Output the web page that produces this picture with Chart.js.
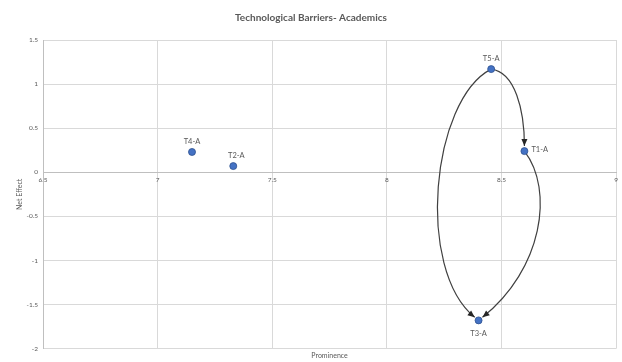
<!DOCTYPE html>
<html>
<head>
<meta charset="utf-8">
<script src="https://cdn.jsdelivr.net/npm/chart.js@4/dist/chart.umd.min.js"></script>
<style>
  html, body { margin: 0; padding: 0; background: #fff; }
  #wrap { width: 622px; height: 362px; }
</style>
</head>
<body>
<div id="wrap"><canvas id="chart" width="622" height="362"></canvas></div>
<script>
// Data
const pointLabels = ['T1-A', 'T2-A', 'T3-A', 'T4-A', 'T5-A'];
const prominence  = [8.60, 7.33, 8.40, 7.15, 8.455];
const netEffect   = [0.24, 0.07, -1.68, 0.23, 1.17];
const xTicks = [6.5, 7, 7.5, 8, 8.5, 9];
const yTicks = [1.5, 1, 0.5, 0, -0.5, -1, -1.5, -2];
// cause -> effect links drawn as curved arrows
const links = [['T5-A', 'T1-A'], ['T1-A', 'T3-A'], ['T5-A', 'T3-A']];

// Where each label sits relative to its point
const labelPlace = { 'T1-A': 'right', 'T2-A': 'aboveRight', 'T3-A': 'below', 'T4-A': 'above', 'T5-A': 'above' };
// Curve shape of each link: pixel offsets of the two control points
const bends = {
  'T5-A>T1-A': [[24, 3], [0, -41]],
  'T1-A>T3-A': [[30, 39], [64, -51]],
  'T5-A>T3-A': [[-60, 31], [-63, -51]]
};

const TXT = '#595959';
const GRID = '#d9d9d9';

const pts = prominence.map((x, i) => ({ x, y: netEffect[i] }));

function px(chart, name) {
  const i = pointLabels.indexOf(name);
  return { x: chart.scales.x.getPixelForValue(prominence[i]), y: chart.scales.y.getPixelForValue(netEffect[i]) };
}

const arrowPlugin = {
  id: 'arrows',
  beforeDatasetsDraw(chart) {
    const ctx = chart.ctx;
    ctx.save();
    ctx.strokeStyle = '#404040';
    ctx.fillStyle = '#262626';
    ctx.lineWidth = 1.2;
    links.forEach(([a, b]) => {
      const p0 = px(chart, a), p3 = px(chart, b);
      const [o1, o2] = bends[a + '>' + b];
      const c1 = { x: p0.x + o1[0], y: p0.y + o1[1] };
      const c2 = { x: p3.x + o2[0], y: p3.y + o2[1] };
      // end the line just short of the target marker
      const dx = p3.x - c2.x, dy = p3.y - c2.y;
      const len = Math.hypot(dx, dy);
      const ux = dx / len, uy = dy / len;
      const tip = { x: p3.x - ux * 5, y: p3.y - uy * 5 };
      ctx.beginPath();
      ctx.moveTo(p0.x, p0.y);
      ctx.bezierCurveTo(c1.x, c1.y, c2.x, c2.y, tip.x, tip.y);
      ctx.stroke();
      const L = 7, W = 3;
      ctx.beginPath();
      ctx.moveTo(tip.x, tip.y);
      ctx.lineTo(tip.x - ux * L - uy * W, tip.y - uy * L + ux * W);
      ctx.lineTo(tip.x - ux * L + uy * W, tip.y - uy * L - ux * W);
      ctx.closePath();
      ctx.fill();
    });
    ctx.restore();
  },
  afterDatasetsDraw(chart) {
    const ctx = chart.ctx;
    ctx.save();
    ctx.font = '7.5px Lato, "Open Sans", sans-serif';
    ctx.fillStyle = TXT;
    pointLabels.forEach(name => {
      const p = px(chart, name);
      const where = labelPlace[name];
      if (where === 'right') {
        ctx.textAlign = 'left'; ctx.textBaseline = 'middle';
        ctx.fillText(name, p.x + 7, p.y - 2);
      } else if (where === 'below') {
        ctx.textAlign = 'center'; ctx.textBaseline = 'top';
        ctx.fillText(name, p.x, p.y + 9);
      } else if (where === 'aboveRight') {
        ctx.textAlign = 'center'; ctx.textBaseline = 'bottom';
        ctx.fillText(name, p.x + 3, p.y - 7);
      } else {
        ctx.textAlign = 'center'; ctx.textBaseline = 'bottom';
        ctx.fillText(name, p.x, p.y - 7);
      }
    });
    ctx.restore();
  }
};

const tickFmt = v => String(v);

new Chart(document.getElementById('chart').getContext('2d'), {
  type: 'scatter',
  data: {
    datasets: [{
      data: pts,
      backgroundColor: '#4472c4',
      borderColor: '#2f528f',
      borderWidth: 0.8,
      pointRadius: 3.5,
      pointHoverRadius: 3.5
    }]
  },
  options: {
    responsive: false,
    animation: false,
    layout: { padding: { left: 0, right: 0, top: 0, bottom: 0 } },
    plugins: {
      legend: { display: false },
      tooltip: { enabled: false },
      title: {
        display: true,
        text: 'Technological Barriers- Academics',
        color: TXT,
        font: { family: 'Lato, "Open Sans", sans-serif', size: 10, weight: 'bold' },
        padding: { top: 12, bottom: 16 }
      }
    },
    scales: {
      x: {
        type: 'linear',
        position: { y: 0 },
        min: 6.5, max: 9,
        afterBuildTicks: s => { s.ticks = xTicks.map(v => ({ value: v })); },
        grid: { color: GRID, drawTicks: false },
        border: { color: '#bfbfbf' },
        ticks: { color: TXT, font: { size: 6.5, family: 'Lato, sans-serif' }, padding: 4, maxRotation: 0, callback: tickFmt }
      },
      x2: {
        type: 'linear',
        position: 'bottom',
        min: 6.5, max: 9,
        grid: { display: false, drawTicks: false },
        border: { display: false },
        ticks: { display: false },
        title: {
          display: true, text: 'Prominence', color: TXT,
          font: { size: 7, family: 'Lato, sans-serif' },
          padding: { top: 3, bottom: 2 }
        }
      },
      y: {
        type: 'linear',
        min: -2, max: 1.5,
        afterBuildTicks: s => { s.ticks = yTicks.map(v => ({ value: v })); },
        afterFit: s => { s.width = 43; },
        grid: { color: GRID, drawTicks: false },
        border: { color: '#bfbfbf' },
        ticks: { color: TXT, font: { size: 6.5, family: 'Lato, sans-serif' }, padding: 5, callback: tickFmt },
        title: {
          display: true, text: 'Net Effect', color: TXT,
          font: { size: 7, family: 'Lato, sans-serif' },
          padding: { top: 16, bottom: 0 }
        }
      }
    }
  },
  plugins: [arrowPlugin]
});
</script>
</body>
</html>
